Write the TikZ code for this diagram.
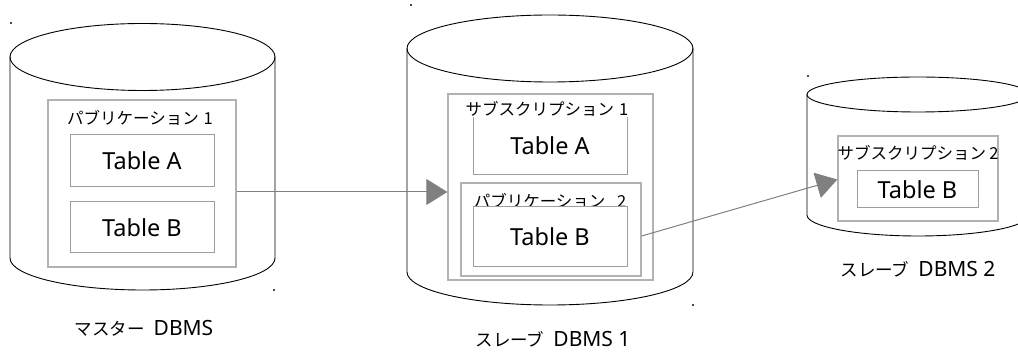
\documentclass[tikz,border=0pt]{standalone}
\usepackage{fontspec}
\setmainfont{Noto Sans}
\newfontfamily\jp{Noto Sans CJK JP}
\usetikzlibrary{arrows.meta}

\definecolor{boxgray}{gray}{0.70}
\definecolor{tblgray}{gray}{0.62}
\definecolor{linkgray}{gray}{0.50}

% database cylinder: centre x, top centre y, bottom centre y, x radius, top y radius, bottom y radius
\newcommand{\dbcyl}[6]{%
  \fill[white] (#1-#4,#2) -- (#1-#4,#3) arc[start angle=180,end angle=0,x radius=#4,y radius=#6]
        -- (#1+#4,#2) arc[start angle=0,end angle=180,x radius=#4,y radius=#5] -- cycle;
  \draw[cylline] (#1-#4,#2) -- (#1-#4,#3) arc[start angle=180,end angle=0,x radius=#4,y radius=#6] -- (#1+#4,#2);
  \draw[cylline] (#1,#2) ellipse[x radius=#4,y radius=#5];
}
% bottom caption: katakana part, then the latin part
\newcommand{\dbcaption}[2]{{\jp\fontsize{17.5}{20}\selectfont #1}\hspace{9pt}{\fontsize{21}{24}\selectfont #2}}

\begin{document}
\begin{tikzpicture}[x=1pt,y=-1pt,
  cylline/.style={black,line width=0.9pt},
  pubbox/.style={draw=boxgray,line width=1.3pt,fill=white,minimum width=#1,inner sep=0pt},
  tblbox/.style={draw=tblgray,line width=1pt,fill=white,inner sep=0pt,font=\fontsize{23.5}{26}\selectfont},
  boxlabel/.style={inner sep=0pt,font=\jp\fontsize{16.5}{19}\selectfont},
  dblabel/.style={inner sep=0pt},
  link/.style={draw=linkgray,line width=1pt,-{Triangle[length=21pt,width=26pt,fill=linkgray]}},
  speck/.style={fill=black!70}
]
\useasboundingbox (0,0) rectangle (1018,352);

\begin{scope}
\clip (0,0) rectangle (1018,352);
% the three databases
\dbcyl{142.5}{57}{258}{132.5}{33.5}{32}
\dbcyl{550}{48.5}{272}{143}{33.5}{33}
\dbcyl{918}{94.5}{215}{111}{17.5}{21}
\end{scope}

% small corner specks
\foreach \p in {(11,23),(274,290),(411,5),(693,305),(808,76)}
  \fill[speck] \p ++(-0.6,-0.6) rectangle ++(1.2,1.2);

% master database
\node[pubbox=188pt,minimum height=167pt] (pub1) at (142,183.5) {};
\node[boxlabel] (pub1lbl) at (140,117.5) {パブリケーション\hspace{0.3em}1};
\node[tblbox,minimum width=144pt,minimum height=52pt] (ta1) at (142,161) {Table A};
\node[tblbox,minimum width=144pt,minimum height=51pt] (tb1) at (142,227.5) {Table B};
\node[dblabel] (db0) at (144,328) {\dbcaption{マスター}{DBMS}};

% first slave
\node[pubbox=205pt,minimum height=186pt] (sub1) at (550.5,187) {};
\node[tblbox,minimum width=154pt,minimum height=58pt] (ta2) at (550,146) {Table A};
\node[boxlabel,fill=white] (sub1lbl) at (547,109) {サブスクリプション\hspace{0.3em}1};
\node[pubbox=180pt,minimum height=93pt] (pub2) at (551,229.5) {};
\node[boxlabel] (pub2lbl) at (550,200.5) {パブリケーション\hspace{0.7em}2};
\node[tblbox,minimum width=154pt,minimum height=60pt] (tb2) at (550,237) {Table B};
\node[dblabel] (db1) at (553,339.5) {\dbcaption{スレーブ}{DBMS 1}};

% second slave
\node[pubbox=160pt,minimum height=85pt] (sub2) at (918,178.5) {};
\node[boxlabel,font=\jp\fontsize{16.5}{19}\selectfont] (sub2lbl) at (918,152.5) {サブスクリプション\hspace{0.2em}2};
\node[tblbox,minimum width=121pt,minimum height=37pt] (tb3) at (917.5,189.5) {Table B};
\node[dblabel] (db2) at (918,269) {\dbcaption{スレーブ}{DBMS 2}};

% replication links
\draw[link] ([yshift=-8.5pt]pub1.east) coordinate (l1) -- (l1 -| sub1.west);
\draw[link] ([yshift=-6.5pt]pub2.east) -- ([yshift=-1pt]sub2.west);
\end{tikzpicture}
\end{document}
